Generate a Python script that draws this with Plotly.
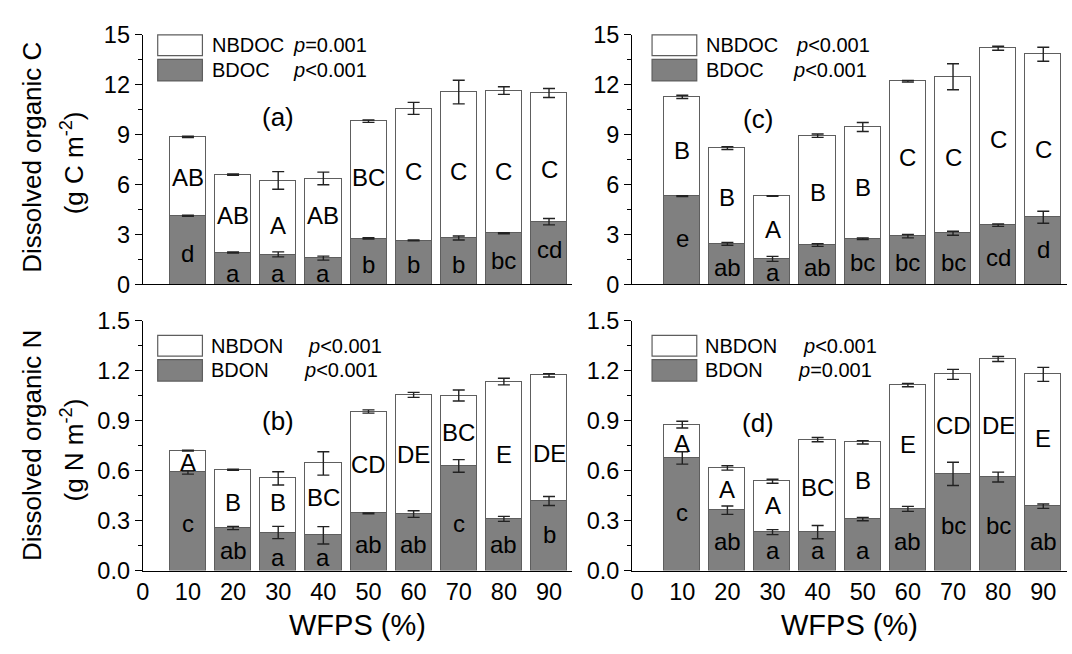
import plotly.graph_objects as go

W, H = 1072, 654
FONT = "Liberation Sans, Arial, sans-serif"

wfps = [10, 20, 30, 40, 50, 60, 70, 80, 90]
xtick_vals = [0, 10, 20, 30, 40, 50, 60, 70, 80, 90]

# Panel (a): DOC
a_bdoc = [4.13, 1.92, 1.81, 1.58, 2.77, 2.65, 2.79, 3.08, 3.77]
a_bdoc_err = [0.03, 0.03, 0.15, 0.12, 0.04, 0.02, 0.12, 0.03, 0.19]
a_nbdoc = [4.74, 4.68, 4.44, 4.79, 7.04, 7.93, 8.77, 8.57, 7.73]
a_total_err = [0.04, 0.04, 0.53, 0.38, 0.07, 0.36, 0.71, 0.23, 0.27]
a_upper = ["AB", "AB", "A", "AB", "BC", "C", "C", "C", "C"]
a_upper_y = [6.40, 4.15, 3.52, 4.15, 6.40, 6.79, 6.79, 6.79, 6.88]
a_lower = ["d", "a", "a", "a", "b", "b", "b", "bc", "cd"]
a_lower_y = [1.88, 0.63, 0.63, 0.63, 1.21, 1.21, 1.21, 1.44, 2.08]

# Panel (c): DOC
c_bdoc = [5.31, 2.44, 1.54, 2.37, 2.75, 2.90, 3.08, 3.56, 4.04]
c_bdoc_err = [0.03, 0.08, 0.15, 0.08, 0.05, 0.10, 0.12, 0.07, 0.36]
c_nbdoc = [5.96, 5.75, 3.77, 6.57, 6.71, 9.31, 9.40, 10.63, 9.79]
c_total_err = [0.10, 0.08, 0.02, 0.10, 0.27, 0.05, 0.78, 0.12, 0.42]
c_upper = ["B", "B", "A", "B", "B", "C", "C", "C", "C"]
c_upper_y = [8.04, 5.25, 3.33, 5.54, 5.83, 7.65, 7.65, 8.71, 8.13]
c_lower = ["e", "ab", "a", "ab", "bc", "bc", "bc", "cd", "d"]
c_lower_y = [2.75, 1.02, 0.73, 1.02, 1.31, 1.31, 1.31, 1.60, 2.08]

# Panel (b): DON
b_bdon = [0.590, 0.256, 0.229, 0.212, 0.344, 0.340, 0.629, 0.311, 0.418]
b_bdon_err = [0.010, 0.010, 0.037, 0.052, 0.003, 0.020, 0.038, 0.015, 0.027]
b_nbdon = [0.131, 0.350, 0.325, 0.432, 0.612, 0.716, 0.423, 0.825, 0.755]
b_total_err = [0.003, 0.003, 0.040, 0.070, 0.010, 0.015, 0.033, 0.020, 0.010]
b_upper = ["A", "B", "B", "BC", "CD", "DE", "BC", "E", "DE"]
b_upper_y = [0.648, 0.408, 0.408, 0.437, 0.638, 0.696, 0.831, 0.696, 0.706]
b_lower = ["c", "ab", "a", "a", "ab", "ab", "c", "ab", "b"]
b_lower_y = [0.283, 0.119, 0.081, 0.081, 0.158, 0.158, 0.283, 0.158, 0.215]

# Panel (d): DON
d_bdon = [0.677, 0.363, 0.231, 0.231, 0.310, 0.371, 0.581, 0.562, 0.387]
d_bdon_err = [0.037, 0.025, 0.015, 0.040, 0.010, 0.015, 0.070, 0.030, 0.013]
d_nbdon = [0.200, 0.254, 0.306, 0.556, 0.461, 0.744, 0.598, 0.709, 0.792]
d_total_err = [0.020, 0.013, 0.012, 0.013, 0.010, 0.010, 0.030, 0.015, 0.042]
d_upper = ["A", "A", "A", "BC", "B", "E", "CD", "DE", "E"]
d_upper_y = [0.763, 0.485, 0.392, 0.500, 0.542, 0.758, 0.873, 0.873, 0.792]
d_lower = ["c", "ab", "a", "a", "a", "ab", "bc", "bc", "ab"]
d_lower_y = [0.350, 0.177, 0.119, 0.119, 0.119, 0.177, 0.273, 0.273, 0.177]

GRAY = "#808080"
EDGE = "#5e5e5e"
ERRC = "#222222"

TICK_SIZE = 23.5
LETTER_SIZE = 24
LEGEND_SIZE = 20
PANEL_SIZE = 26
YTITLE_SIZE = 26
XTITLE_SIZE = 29


def px(x):
    return x / W


def py(y):
    return 1 - y / H


fig = go.Figure()

panels = [
    ("x", "y", a_bdoc, a_bdoc_err, a_nbdoc, a_total_err, a_upper, a_upper_y, a_lower, a_lower_y),
    ("x2", "y2", c_bdoc, c_bdoc_err, c_nbdoc, c_total_err, c_upper, c_upper_y, c_lower, c_lower_y),
    ("x3", "y3", b_bdon, b_bdon_err, b_nbdon, b_total_err, b_upper, b_upper_y, b_lower, b_lower_y),
    ("x4", "y4", d_bdon, d_bdon_err, d_nbdon, d_total_err, d_upper, d_upper_y, d_lower, d_lower_y),
]

annotations = []
for xa, ya, bio, bio_err, nonbio, tot_err, up, up_y, lo, lo_y in panels:
    fig.add_trace(go.Bar(x=wfps, y=bio, width=8, xaxis=xa, yaxis=ya,
                         marker=dict(color=GRAY, line=dict(color=EDGE, width=1.2)),
                         showlegend=False))
    fig.add_trace(go.Bar(x=wfps, y=nonbio, width=8, xaxis=xa, yaxis=ya,
                         marker=dict(color="white", line=dict(color=EDGE, width=1.2)),
                         showlegend=False))
    totals = [b + n for b, n in zip(bio, nonbio)]
    for yy, ee in ((bio, bio_err), (totals, tot_err)):
        fig.add_trace(go.Scatter(x=wfps, y=yy, xaxis=xa, yaxis=ya, mode="markers",
                                 marker=dict(size=1, color="rgba(0,0,0,0)"),
                                 error_y=dict(type="data", array=ee, visible=True,
                                              color=ERRC, thickness=1.4, width=6),
                                 showlegend=False, hoverinfo="skip"))
    for labels, ys in ((up, up_y), (lo, lo_y)):
        for xv, t, yv in zip(wfps, labels, ys):
            annotations.append(dict(x=xv, y=yv, xref=xa, yref=ya, text=t, showarrow=False,
                                    font=dict(family=FONT, size=LETTER_SIZE, color="black"),
                                    xanchor="center", yanchor="middle"))

fig.update_layout(barmode="stack", bargap=0)

# Geometry (pixels)
L_X0, L_X1 = 136.7, 568.3
R_X0, R_X1 = 629.3, 1066.7
T_Y0, T_Y1 = 22.7, 282.7
B_Y0, B_Y1 = 320.7, 580.7

xcommon = dict(showline=True, linecolor="black", linewidth=1.2, ticks="", showgrid=False,
               zeroline=False, tickmode="array", tickvals=xtick_vals,
               tickfont=dict(family=FONT, size=TICK_SIZE, color="black"))
ycommon = dict(showline=True, linecolor="black", linewidth=1.2, ticks="outside", ticklen=7,
               tickwidth=1.2, tickcolor="black", showgrid=False, zeroline=False,
               tickfont=dict(family=FONT, size=TICK_SIZE, color="black"))

fig.update_layout(
    width=W, height=H, autosize=False,
    margin=dict(l=0, r=0, t=0, b=0),
    paper_bgcolor="white", plot_bgcolor="white",
    xaxis=dict(domain=[px(L_X0), px(L_X1)], range=[0, 95], anchor="y",
               showticklabels=False, **xcommon),
    xaxis2=dict(domain=[px(R_X0), px(R_X1)], range=[-1.1, 95.2], anchor="y2",
                showticklabels=False, **xcommon),
    xaxis3=dict(domain=[px(L_X0), px(L_X1)], range=[0, 95], anchor="y3",
                showticklabels=True, **xcommon),
    xaxis4=dict(domain=[px(R_X0), px(R_X1)], range=[-1.1, 95.2], anchor="y4",
                showticklabels=True, **xcommon),
    yaxis=dict(domain=[py(T_Y1), py(T_Y0)], range=[0, 15], anchor="x", dtick=3,
               minor=dict(dtick=1.5, ticks="outside", ticklen=4, tickcolor="black"), **ycommon),
    yaxis2=dict(domain=[py(T_Y1), py(T_Y0)], range=[0, 15], anchor="x2", dtick=3,
                minor=dict(dtick=1.5, ticks="outside", ticklen=4, tickcolor="black"), **ycommon),
    yaxis3=dict(domain=[py(B_Y1), py(B_Y0)], range=[0, 1.5], anchor="x3", dtick=0.3,
                tickformat=".1f",
                minor=dict(dtick=0.15, ticks="outside", ticklen=4, tickcolor="black"), **ycommon),
    yaxis4=dict(domain=[py(B_Y1), py(B_Y0)], range=[0, 1.5], anchor="x4", dtick=0.3,
                tickformat=".1f",
                minor=dict(dtick=0.15, ticks="outside", ticklen=4, tickcolor="black"), **ycommon),
)

# Legends drawn as boxes + text
shapes = []
legends = [
    (151.7, 22.7, 44.3, 48.3, 70.7, 204, 285.7, 285.7, ["NBDOC", "BDOC"],
     ["<i>p</i>=0.001", "<i>p</i>&lt;0.001"]),
    (649.3, 22.7, 44.3, 48.3, 70.7, 701.7, 792.3, 789.0, ["NBDOC", "BDOC"],
     ["<i>p</i>&lt;0.001", "<i>p</i>&lt;0.001"]),
    (151.7, 335.7, 357.3, 361.0, 383.3, 203.3, 301.0, 297.3, ["NBDON", "BDON"],
     ["<i>p</i>&lt;0.001", "<i>p</i>&lt;0.001"]),
    (649.3, 335.7, 357.3, 361.0, 383.3, 701.0, 799.0, 794.0, ["NBDON", "BDON"],
     ["<i>p</i>&lt;0.001", "<i>p</i>=0.001"]),
]
for bx, wy0, wy1, gy0, gy1, tx, p1, p2, names, ptexts in legends:
    shapes.append(dict(type="rect", xref="paper", yref="paper", x0=px(bx), x1=px(bx + 45),
                       y0=py(wy1), y1=py(wy0), fillcolor="white",
                       line=dict(color=EDGE, width=1.2)))
    shapes.append(dict(type="rect", xref="paper", yref="paper", x0=px(bx), x1=px(bx + 45),
                       y0=py(gy1), y1=py(gy0), fillcolor=GRAY,
                       line=dict(color=EDGE, width=1.2)))
    for name, pt, pxx, yc in ((names[0], ptexts[0], p1, (wy0 + wy1) / 2),
                              (names[1], ptexts[1], p2, (gy0 + gy1) / 2)):
        annotations.append(dict(x=px(tx), y=py(yc), xref="paper", yref="paper", text=name,
                                showarrow=False, xanchor="left", yanchor="middle",
                                font=dict(family=FONT, size=LEGEND_SIZE, color="black")))
        annotations.append(dict(x=px(pxx), y=py(yc), xref="paper", yref="paper", text=pt,
                                showarrow=False, xanchor="left", yanchor="middle",
                                font=dict(family=FONT, size=LEGEND_SIZE, color="black")))

fig.update_layout(shapes=shapes)

# Panel labels
for lab, xx, yy in (("(a)", 272.3, 108.3), ("(c)", 755.7, 110.0),
                    ("(b)", 272.3, 425.0), ("(d)", 755.7, 426.7)):
    annotations.append(dict(x=px(xx), y=py(yy), xref="paper", yref="paper", text=lab,
                            showarrow=False, xanchor="center", yanchor="middle",
                            font=dict(family=FONT, size=PANEL_SIZE, color="black")))

# Axis titles
for txt, xx, yy in (("Dissolved organic C", 25, 150), ("(g C m<sup>-2</sup>)", 66, 156),
                    ("Dissolved organic N", 25, 450), ("(g N m<sup>-2</sup>)", 66, 455)):
    annotations.append(dict(x=px(xx), y=py(yy), xref="paper", yref="paper", text=txt,
                            showarrow=False, xanchor="center", yanchor="middle", textangle=-90,
                            font=dict(family=FONT, size=YTITLE_SIZE, color="black")))
for xx in ((L_X0 + L_X1) / 2, (R_X0 + R_X1) / 2):
    annotations.append(dict(x=px(xx), y=py(637), xref="paper", yref="paper", text="WFPS (%)",
                            showarrow=False, xanchor="center", yanchor="middle",
                            font=dict(family=FONT, size=XTITLE_SIZE, color="black")))

fig.update_layout(annotations=annotations)

fig.write_html(
    "out.html",
    config={"displayModeBar": False},
    post_script="document.body.style.margin='0';document.body.style.overflow='hidden';",
)
